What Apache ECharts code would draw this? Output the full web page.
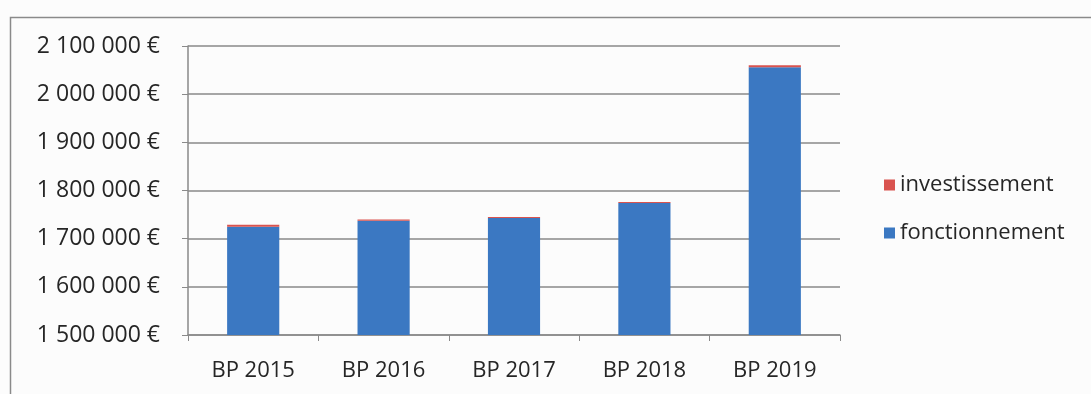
<!DOCTYPE html>
<html>
<head>
<meta charset="utf-8">
<script src="https://cdn.jsdelivr.net/npm/echarts@6/dist/echarts.min.js"></script>
<style>
  html, body { margin: 0; padding: 0; background: #fcfcfc; }
  #chart { width: 1091px; height: 394px; }
</style>
</head>
<body>
<div id="chart"></div>
<script>
// Budget primitif par année, en euros
const categories = ['BP 2015', 'BP 2016', 'BP 2017', 'BP 2018', 'BP 2019'];
const fonctionnement = [1725000, 1737000, 1743000, 1774000, 2056000];
const investissement = [4000, 3000, 2000, 2000, 4000];
const seriesNames = ['investissement', 'fonctionnement'];

function euro(v) {
  return String(v).replace(/\B(?=(\d{3})+(?!\d))/g, ' ') + ' €';
}

const chart = echarts.init(document.getElementById('chart'));
chart.setOption({
  animation: false,
  backgroundColor: '#fcfcfc',
  textStyle: { fontFamily: 'Open Sans' },
  graphic: [{
    type: 'rect',
    shape: { x: 10.5, y: 17.5, width: 1100, height: 400 },
    style: { fill: 'none', stroke: '#8a8a8a', lineWidth: 1.5 }
  }],
  legend: {
    orient: 'vertical',
    left: 879,
    top: 169,
    itemGap: 26,
    itemWidth: 11,
    itemHeight: 11,
    icon: 'rect',
    data: seriesNames,
    textStyle: { fontSize: 22, color: '#262626', fontFamily: 'Open Sans' }
  },
  grid: { left: 188, top: 46, width: 652, height: 289 },
  xAxis: {
    type: 'category',
    data: categories,
    axisLine: { lineStyle: { color: '#8a8a8a', width: 1.5 } },
    axisTick: { show: true, length: 6, lineStyle: { color: '#8a8a8a' } },
    axisLabel: { fontSize: 22, color: '#262626', margin: 25 }
  },
  yAxis: {
    type: 'value',
    min: 1500000,
    max: 2100000,
    interval: 100000,
    axisLine: { show: true, lineStyle: { color: '#8a8a8a', width: 1.5 } },
    axisTick: { show: true, length: 6, lineStyle: { color: '#8a8a8a' } },
    splitLine: { lineStyle: { color: '#8a8a8a', width: 1.5 } },
    axisLabel: { fontSize: 23, color: '#262626', margin: 28, formatter: euro }
  },
  series: [
    {
      name: 'fonctionnement',
      type: 'bar',
      stack: 'total',
      barWidth: '40%',
      data: fonctionnement,
      itemStyle: { color: '#3b78c2' }
    },
    {
      name: 'investissement',
      type: 'bar',
      stack: 'total',
      barWidth: '40%',
      data: investissement,
      itemStyle: { color: '#d9534f' }
    }
  ]
});
</script>
</body>
</html>
